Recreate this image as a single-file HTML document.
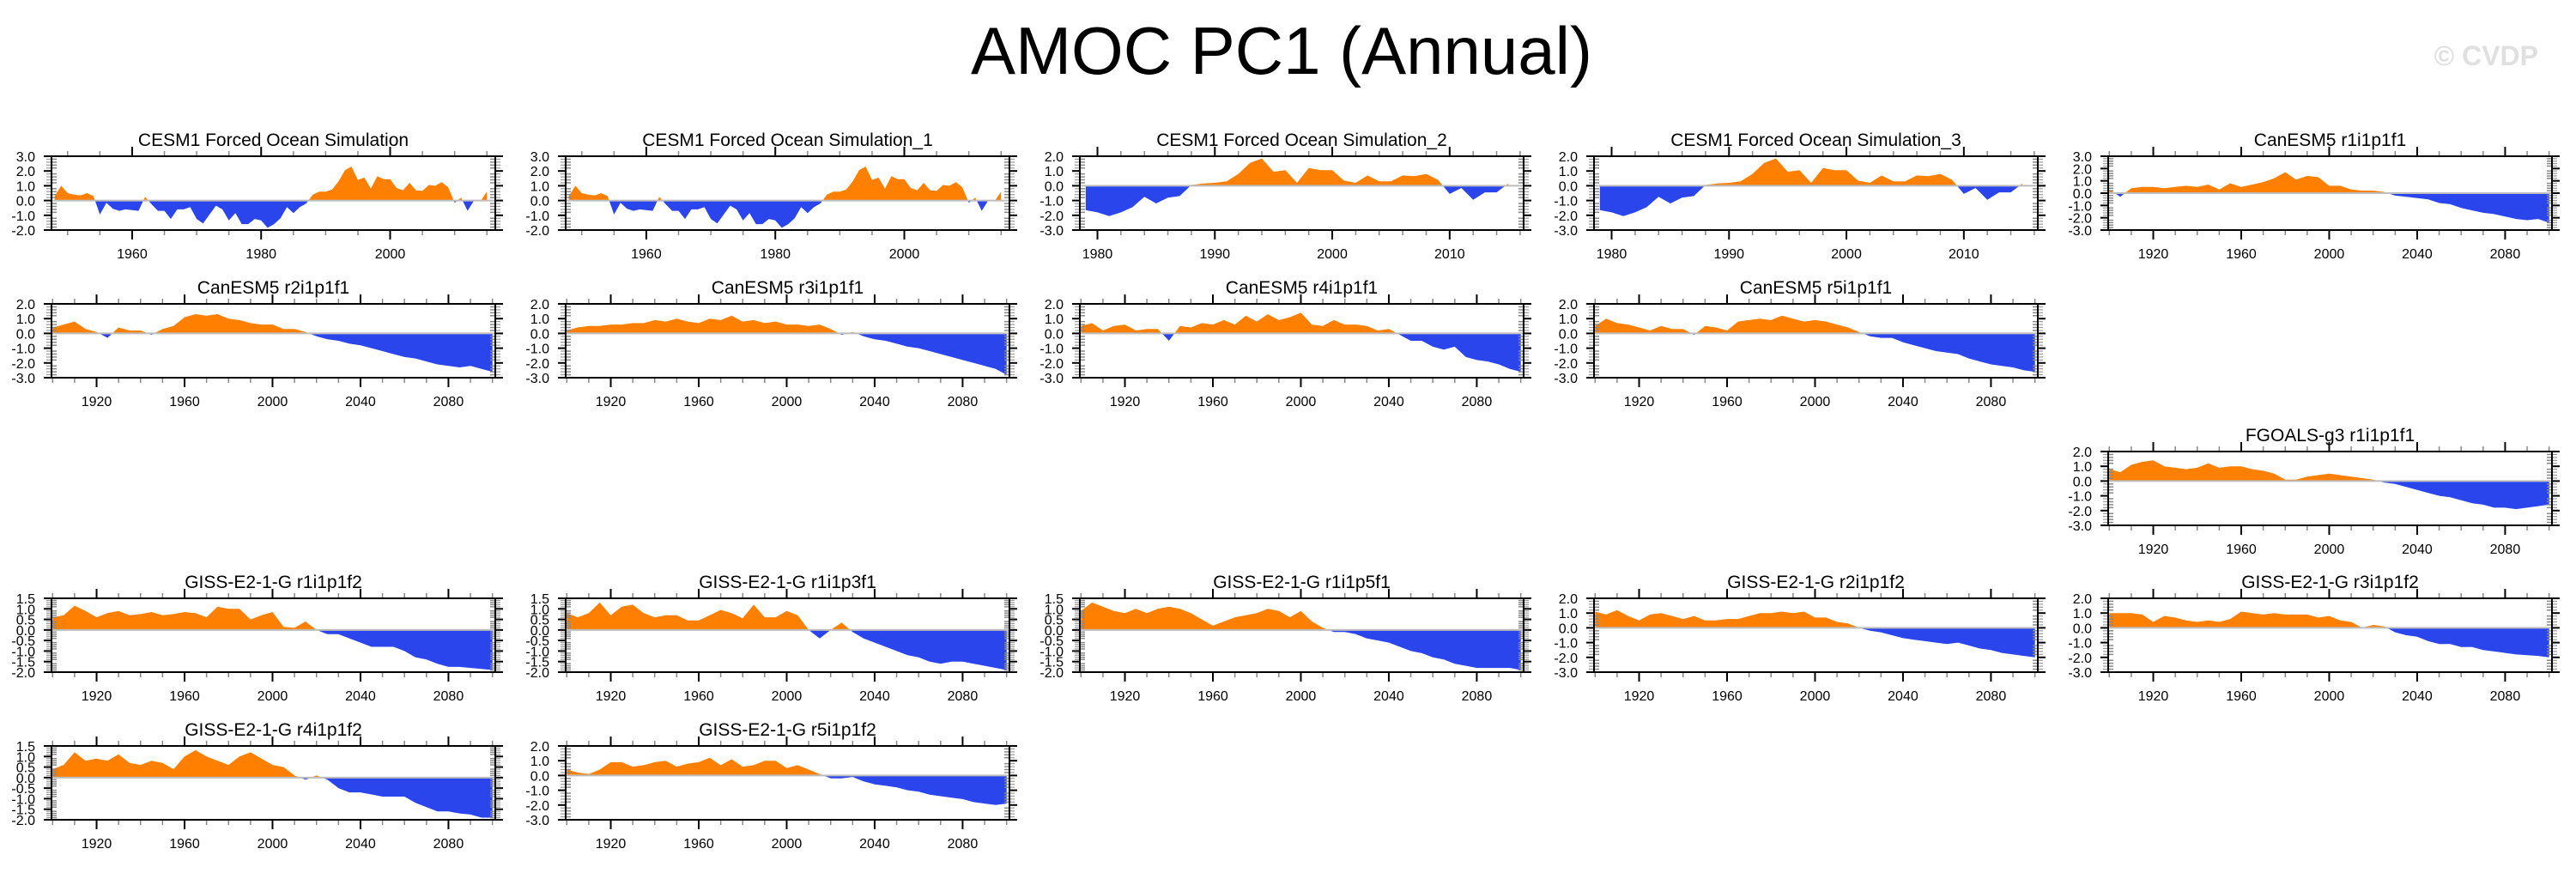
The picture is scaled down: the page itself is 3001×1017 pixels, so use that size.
<!DOCTYPE html>
<html><head><meta charset="utf-8"><style>
html,body{margin:0;padding:0;background:#fff}
svg{display:block;font-family:"Liberation Sans",Arial,sans-serif}
</style></head><body>
<svg id="chart" width="3001" height="1017" viewBox="0 0 3001 1017" xmlns="http://www.w3.org/2000/svg">
<rect width="3001" height="1017" fill="#fff"/>
<text x="1493" y="86" font-size="78" text-anchor="middle" fill="#000">AMOC PC1 (Annual)</text>
<text x="2957" y="76" font-size="32" font-weight="bold" text-anchor="end" fill="#e0e0e0">© CVDP</text>
<g id="panels"></g>
</svg>
<script>
// ---- data arrays ----
const cesmFOS = [0.3,1.0,0.5,0.4,0.35,0.5,0.3,-0.95,-0.15,-0.55,-0.7,-0.6,-0.65,-0.7,0.25,-0.25,-0.7,-0.7,-1.25,-0.6,-0.6,-0.45,-1.25,-1.55,-0.95,-0.35,-0.6,-1.35,-0.85,-1.6,-1.6,-1.25,-1.35,-1.85,-1.6,-1.2,-0.45,-0.85,-0.45,-0.2,0.4,0.6,0.6,0.75,1.3,2.05,2.3,1.4,1.55,0.8,1.65,1.45,1.45,0.85,0.7,1.2,0.7,0.65,1.05,1.0,1.25,0.9,-0.15,0.2,-0.7,0.0,-0.05,0.6];
const cesmFOS1 = [0.3,1.0,0.5,0.4,0.35,0.5,0.3,-0.95,-0.15,-0.55,-0.7,-0.6,-0.65,-0.7,0.25,-0.25,-0.7,-0.7,-1.25,-0.6,-0.6,-0.45,-1.25,-1.55,-0.95,-0.35,-0.6,-1.35,-0.85,-1.6,-1.6,-1.25,-1.35,-1.85,-1.6,-1.2,-0.45,-0.85,-0.45,-0.2,0.4,0.6,0.6,0.75,1.3,2.05,2.3,1.4,1.55,0.8,1.65,1.45,1.45,0.85,0.7,1.2,0.7,0.65,1.05,1.0,1.25,0.9,-0.15,0.2,-0.7,0.0,-0.05,0.6];
const cesmFOS2 = [-1.65,-1.8,-2.05,-1.8,-1.45,-0.75,-1.2,-0.8,-0.7,0.05,0.15,0.2,0.3,0.8,1.55,1.85,0.95,1.05,0.2,1.2,1.05,1.05,0.35,0.2,0.7,0.3,0.3,0.7,0.65,0.8,0.4,-0.55,-0.15,-0.95,-0.45,-0.45,0.15];
const cesmFOS3 = [-1.65,-1.8,-2.05,-1.8,-1.45,-0.75,-1.2,-0.8,-0.7,0.05,0.15,0.2,0.3,0.8,1.55,1.85,0.95,1.05,0.2,1.2,1.05,1.05,0.35,0.2,0.7,0.3,0.3,0.7,0.65,0.8,0.4,-0.55,-0.15,-0.95,-0.45,-0.45,0.15];
// 5-yearly values 1900..2100
const canR1 = [0.3,-0.3,0.4,0.5,0.5,0.4,0.5,0.6,0.5,0.7,0.3,0.8,0.5,0.7,0.9,1.2,1.7,1.1,1.4,1.3,0.6,0.6,0.3,0.2,0.2,0.1,-0.2,-0.3,-0.4,-0.5,-0.8,-0.9,-1.2,-1.4,-1.6,-1.7,-1.9,-2.1,-2.2,-2.1,-2.4];
const canR2 = [0.4,0.6,0.8,0.3,0.1,-0.3,0.4,0.2,0.2,-0.1,0.3,0.5,1.1,1.3,1.2,1.3,1.0,0.9,0.7,0.6,0.6,0.3,0.3,0.1,-0.2,-0.4,-0.5,-0.7,-0.8,-1.0,-1.2,-1.4,-1.6,-1.7,-1.9,-2.1,-2.2,-2.3,-2.2,-2.4,-2.6];
const canR3 = [0.2,0.4,0.5,0.5,0.6,0.6,0.7,0.7,0.9,0.8,1.0,0.8,0.7,1.0,0.9,1.2,0.8,0.9,0.7,0.8,0.6,0.6,0.5,0.6,0.3,-0.1,0.1,-0.2,-0.4,-0.5,-0.7,-0.9,-1.0,-1.2,-1.4,-1.6,-1.8,-2.0,-2.2,-2.4,-2.8];
const canR4 = [0.5,0.7,0.2,0.5,0.6,0.2,0.3,0.3,-0.5,0.5,0.4,0.7,0.6,0.9,0.6,1.2,0.8,1.3,0.9,1.1,1.4,0.6,0.5,0.9,0.6,0.6,0.5,0.2,0.3,-0.1,-0.5,-0.5,-0.9,-1.1,-0.9,-1.6,-1.8,-1.9,-2.1,-2.4,-2.6];
const canR5 = [0.5,1.0,0.7,0.6,0.4,0.2,0.5,0.3,0.3,-0.1,0.5,0.4,0.2,0.8,0.9,1.0,0.9,1.2,1.0,0.8,0.9,0.8,0.6,0.4,0.1,-0.2,-0.3,-0.3,-0.6,-0.8,-1.0,-1.2,-1.3,-1.4,-1.7,-1.9,-2.1,-2.2,-2.3,-2.5,-2.6];
const fgoalsR1 = [0.8,0.6,1.1,1.3,1.4,1.0,0.9,0.8,0.9,1.2,0.9,1.0,1.0,0.8,0.7,0.5,0.1,0.1,0.3,0.4,0.5,0.4,0.3,0.2,0.1,-0.1,-0.2,-0.4,-0.6,-0.8,-1.0,-1.1,-1.3,-1.5,-1.6,-1.8,-1.8,-1.9,-1.8,-1.7,-1.6];
const gissR1p1 = [0.6,0.7,1.15,0.9,0.6,0.8,0.9,0.7,0.75,0.85,0.7,0.75,0.85,0.8,0.6,1.1,1.0,1.0,0.5,0.7,0.85,0.15,0.1,0.4,0.0,-0.2,-0.2,-0.4,-0.6,-0.8,-0.8,-0.8,-1.0,-1.3,-1.4,-1.6,-1.75,-1.75,-1.8,-1.85,-1.9];
const gissR1p3 = [0.8,0.6,0.8,1.3,0.7,1.1,1.2,0.8,0.6,0.7,0.7,0.45,0.45,0.7,0.95,0.8,0.55,1.2,0.6,0.6,0.9,0.7,0.0,-0.4,0.0,0.35,-0.1,-0.4,-0.6,-0.8,-1.0,-1.2,-1.3,-1.5,-1.6,-1.5,-1.5,-1.6,-1.7,-1.8,-1.9];
const gissR1p5 = [0.9,1.3,1.1,0.9,0.8,1.0,0.8,1.0,1.1,1.0,0.8,0.5,0.2,0.4,0.6,0.7,0.8,1.0,0.9,0.6,0.9,0.4,0.1,-0.1,-0.1,-0.2,-0.4,-0.5,-0.6,-0.8,-1.0,-1.1,-1.3,-1.4,-1.6,-1.7,-1.8,-1.8,-1.8,-1.8,-1.9];
const gissR2 = [1.1,0.9,1.2,0.8,0.5,0.9,1.0,0.8,0.6,0.8,0.5,0.5,0.6,0.6,0.8,1.0,1.0,1.1,1.0,1.1,0.7,0.7,0.4,0.3,0.0,-0.2,-0.3,-0.5,-0.7,-0.8,-0.9,-1.0,-1.1,-1.0,-1.2,-1.4,-1.5,-1.7,-1.8,-1.9,-2.0];
const gissR3 = [1.0,1.0,1.0,0.9,0.4,0.8,0.7,0.5,0.4,0.5,0.4,0.6,1.1,1.0,0.9,1.0,0.9,0.9,0.9,0.7,0.8,0.5,0.4,0.0,0.2,0.1,-0.3,-0.5,-0.6,-0.9,-1.1,-1.1,-1.3,-1.3,-1.5,-1.6,-1.7,-1.8,-1.85,-1.9,-2.0];
const gissR4 = [0.4,0.6,1.2,0.8,0.9,0.8,1.1,0.7,0.6,0.8,0.7,0.4,1.0,1.3,1.0,0.8,0.6,1.0,1.2,0.9,0.6,0.5,0.1,-0.1,0.1,-0.1,-0.5,-0.7,-0.7,-0.8,-0.9,-0.9,-0.9,-1.2,-1.4,-1.6,-1.6,-1.7,-1.75,-1.9,-1.9];
const gissR5 = [0.4,0.2,0.1,0.4,0.9,0.9,0.6,0.7,0.9,1.0,0.6,0.8,0.9,1.2,0.7,1.1,0.6,0.7,1.0,1.0,0.5,0.7,0.4,0.1,-0.2,-0.2,-0.1,-0.4,-0.6,-0.7,-0.8,-1.0,-1.1,-1.3,-1.4,-1.5,-1.6,-1.8,-1.9,-2.0,-1.9];

const panelTitles = ["CESM1 Forced Ocean Simulation","CESM1 Forced Ocean Simulation_1","CESM1 Forced Ocean Simulation_2","CESM1 Forced Ocean Simulation_3","CanESM5 r1i1p1f1","CanESM5 r2i1p1f1","CanESM5 r3i1p1f1","CanESM5 r4i1p1f1","CanESM5 r5i1p1f1","FGOALS-g3 r1i1p1f1","GISS-E2-1-G r1i1p1f2","GISS-E2-1-G r1i1p3f1","GISS-E2-1-G r1i1p5f1","GISS-E2-1-G r2i1p1f2","GISS-E2-1-G r3i1p1f2","GISS-E2-1-G r4i1p1f2","GISS-E2-1-G r5i1p1f2"];
const panelSeries = [cesmFOS,cesmFOS1,cesmFOS2,cesmFOS3,canR1,canR2,canR3,canR4,canR5,fgoalsR1,gissR1p1,gissR1p3,gissR1p5,gissR2,gissR3,gissR4,gissR5];
const startYears = [1948,1948,1979,1979,1900,1900,1900,1900,1900,1900,1900,1900,1900,1900,1900,1900,1900];
const yearSteps = [1,1,1,1,5,5,5,5,5,5,5,5,5,5,5,5,5];
const yMaxs = [3,3,2,2,3,2,2,2,2,2,1.5,1.5,1.5,2,2,1.5,2];
const yMins = [-2,-2,-3,-3,-3,-3,-3,-3,-3,-3,-2,-2,-2,-3,-3,-2,-3];
const yTickSteps = [1,1,1,1,1,1,1,1,1,1,0.5,0.5,0.5,1,1,0.5,1];
const gridRow = [0,0,0,0,0,1,1,1,1,2,3,3,3,3,3,4,4];
const gridCol = [0,1,2,3,4,0,1,2,3,4,0,1,2,3,4,0,1];

// ---- layout ----
const NS = "http://www.w3.org/2000/svg";
const colX0 = 60, colPitch = 599, rowY0 = 182, rowPitch = 171.8, PW = 517, PH = 86;
const ORANGE = "#ff8000", BLUE = "#2b45ec";
const root = document.getElementById("panels");
function mk(tag, attrs, parent){ const e=document.createElementNS(NS,tag); for(const k in attrs) e.setAttribute(k,attrs[k]); parent.appendChild(e); return e; }

panelSeries.forEach((vals, p) => {
  const L = colX0 + gridCol[p]*colPitch, T = Math.round(rowY0 + gridRow[p]*rowPitch), R = L+PW, B = T+PH;
  const y0 = startYears[p], st = yearSteps[p];
  const yLast = y0 + st*(vals.length-1);
  const xmin = y0 - 0.5, xmax = yLast + 1.3;
  const xs = yr => L + (yr - xmin)/(xmax - xmin)*PW;
  const ys = v => T + (yMaxs[p] - v)/(yMaxs[p] - yMins[p])*PH;
  const g = mk("g", {}, root);
  
  
  const t = mk("text", {x:(L+R)/2, y:T-12, "font-size":21, "text-anchor":"middle", fill:"#000"}, g);
  t.textContent = panelTitles[p];
  
  
  const z = ys(0);
  const cpA = mk("clipPath", {id:"ca"+p}, g); mk("rect", {x:L, y:T, width:PW, height:z-T}, cpA);
  const cpB = mk("clipPath", {id:"cb"+p}, g); mk("rect", {x:L, y:z, width:PW, height:B-z}, cpB);
  let d = "M" + xs(y0).toFixed(1) + "," + z.toFixed(1);
  vals.forEach((v,i) => { d += " L" + xs(y0+i*st).toFixed(1) + "," + ys(v).toFixed(1); });
  d += " L" + xs(yLast).toFixed(1) + "," + z.toFixed(1) + " Z";
  const pa = mk("path", {d:d, fill:ORANGE, "clip-path":"url(#ca"+p+")"}, g);
  
  
  const pb = mk("path", {d:d, fill:BLUE, "clip-path":"url(#cb"+p+")"}, g);
  
  
  const zl = mk("line", {x1:L, x2:R, y1:z, y2:z, stroke:"#bdbdbd", "stroke-width":2}, g);
  
  
  let major, minor;
  if (st === 5) { major = 40; minor = 10; }
  else if (y0 === 1948) { major = 20; minor = 5; }
  else { major = 10; minor = 2; }
  const majorStart = (st===5) ? 1920 : Math.ceil(xmin/major)*major;
  for (let yr = Math.ceil(xmin/minor)*minor; yr <= xmax; yr += minor) {
    const x = xs(yr);
    const isMaj = ((yr - majorStart) % major === 0);
    const len = isMaj ? 11 : 6;
    const col = isMaj ? "#000" : "#888";
    mk("line", {x1:x, x2:x, y1:T, y2:T-len, stroke:col, "stroke-width":isMaj?2:1.5}, g);
    mk("line", {x1:x, x2:x, y1:B, y2:B+len, stroke:col, "stroke-width":isMaj?2:1.5}, g);
    if (isMaj) {
      const lt = mk("text", {x:x, y:B+33, "font-size":16, "text-anchor":"middle", fill:"#000"}, g);
      lt.textContent = yr;
      
      
    }
  }
  const ySt = yTickSteps[p], n = Math.round((yMaxs[p]-yMins[p])/ySt);
  for (let i = 0; i <= n; i++) {
    const v = yMaxs[p] - i*ySt, y = ys(v);
    mk("line", {x1:L-9, x2:L, y1:y, y2:y, stroke:"#000", "stroke-width":2}, g);
    mk("line", {x1:R, x2:R+9, y1:y, y2:y, stroke:"#000", "stroke-width":2}, g);
    const lt = mk("text", {x:L-19, y:y+6, "font-size":16, "text-anchor":"end", fill:"#000"}, g);
    lt.textContent = v.toFixed(1);
    
    
    if (i < n) for (let k = 1; k < 5; k++) {
      const ym = ys(v - k*ySt/5);
      mk("line", {x1:L, x2:L+6, y1:ym, y2:ym, stroke:"#888", "stroke-width":1.5}, g);
      mk("line", {x1:R-6, x2:R, y1:ym, y2:ym, stroke:"#888", "stroke-width":1.5}, g);
      mk("line", {x1:L-6, x2:L, y1:ym, y2:ym, stroke:"#999", "stroke-width":1.2}, g);
      mk("line", {x1:R, x2:R+6, y1:ym, y2:ym, stroke:"#999", "stroke-width":1.2}, g);
    }
  }
  const fr = mk("rect", {x:L, y:T, width:PW, height:PH, fill:"none", stroke:"#000", "stroke-width":2}, g);
  
  
});
</script>
</body></html>
